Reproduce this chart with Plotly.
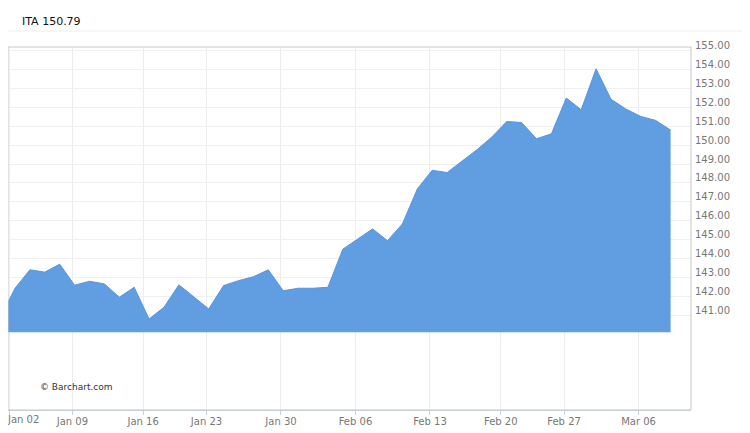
import plotly.graph_objects as go

# ---- data ----
dates = [
    "2016-12-30", "2017-01-03", "2017-01-04", "2017-01-05", "2017-01-06",
    "2017-01-09", "2017-01-10", "2017-01-11", "2017-01-12", "2017-01-13",
    "2017-01-17", "2017-01-18", "2017-01-19", "2017-01-20",
    "2017-01-23", "2017-01-24", "2017-01-25", "2017-01-26", "2017-01-27",
    "2017-01-30", "2017-01-31", "2017-02-01", "2017-02-02", "2017-02-03",
    "2017-02-06", "2017-02-07", "2017-02-08", "2017-02-09", "2017-02-10",
    "2017-02-13", "2017-02-14", "2017-02-15", "2017-02-16", "2017-02-17",
    "2017-02-21", "2017-02-22", "2017-02-23", "2017-02-24",
    "2017-02-27", "2017-02-28", "2017-03-01", "2017-03-02", "2017-03-03",
    "2017-03-06", "2017-03-07", "2017-03-08",
]
closes = [
    140.88, 142.45, 143.42, 143.30, 143.72,
    142.61, 142.82, 142.68, 141.98, 142.50,
    140.83, 141.45, 142.63, 142.01,
    141.36, 142.59, 142.85, 143.06, 143.42,
    142.32, 142.45, 142.45, 142.50, 144.51,
    145.04, 145.58, 144.96, 145.84, 147.68,
    148.67, 148.55, 149.15, 149.75, 150.42,
    151.24, 151.19, 150.33, 150.59,
    152.48, 151.86, 154.02, 152.42, 151.90,
    151.51, 151.30, 150.79,
]
tick_dates = ["2017-01-02", "2017-01-09", "2017-01-16", "2017-01-23", "2017-01-30",
              "2017-02-06", "2017-02-13", "2017-02-20", "2017-02-27", "2017-03-06"]
tick_labels = ["Jan 02", "Jan 09", "Jan 16", "Jan 23", "Jan 30",
               "Feb 06", "Feb 13", "Feb 20", "Feb 27", "Mar 06"]
y_ticks = list(range(141, 156))
symbol = "ITA"
fill_floor = 140.13

# ---- trading-day index axis ----
idx = list(range(len(dates)))


def tick_pos(d):
    for i, dd in enumerate(dates):
        if dd >= d:
            return i - (0.15 if dd == d else 0.4)
    return len(dates) - 1


tick_vals = [tick_pos(d) for d in tick_dates]
# the first label sits at the very left edge of the page; it is drawn as an
# annotation anchored at the plot's left edge so it is not clipped
tick_text = [""] + tick_labels[1:]

BLUE_FILL = "rgb(96,157,225)"
BLUE_LINE = "rgb(88,150,222)"
FONT = "DejaVu Sans"
TICK_FONT = dict(family=FONT, size=10, color="#777")

fig = go.Figure()
fig.add_trace(go.Scatter(
    x=idx, y=[fill_floor] * len(idx), mode="lines",
    line=dict(width=0, color="rgba(0,0,0,0)"), hoverinfo="skip", showlegend=False,
))
fig.add_trace(go.Scatter(
    x=idx, y=closes, mode="lines", fill="tonexty",
    fillcolor=BLUE_FILL, line=dict(color=BLUE_LINE, width=1),
    showlegend=False,
))

fig.update_layout(
    width=742, height=425,
    margin=dict(l=0, r=59, t=39, b=23, autoexpand=False),
    paper_bgcolor="white", plot_bgcolor="white",
    font=dict(family=FONT, size=10, color="#777"),
    showlegend=False,
    xaxis=dict(
        range=[0.530, 46.37],
        tickvals=tick_vals, ticktext=tick_text,
        showgrid=True, gridcolor="#ececec", gridwidth=1,
        zeroline=False,
        showline=True, linecolor="#c3d3e3", linewidth=1,
        ticks="outside", ticklen=4, tickcolor="#c3d3e3",
        ticklabelstandoff=-2,
        tickfont=TICK_FONT,
    ),
    yaxis=dict(
        range=[136.03, 155.17], side="right",
        tickvals=y_ticks, tickformat=".2f",
        showgrid=True, gridcolor="#f0f0f0", gridwidth=1,
        zeroline=False, showline=False, ticks="",
        ticklabelstandoff=3, ticklabelshift=-5,
        tickfont=TICK_FONT,
    ),
    shapes=[
        dict(type="rect", xref="paper", yref="paper", x0=0, x1=1, y0=0, y1=1,
             line=dict(color="#c8c8c8", width=1), layer="above"),
        dict(type="line", xref="paper", yref="paper", x0=0, x1=1.1, y0=1.044, y1=1.044,
             line=dict(color="#eeeeee", width=1)),
    ],
    annotations=[
        dict(text=f"{symbol} {closes[-1]:.2f}", xref="paper", yref="paper",
             x=0.0205, y=1.0689, xanchor="left", yanchor="middle", showarrow=False,
             xshift=-2, font=dict(family=FONT, size=11, color="#111")),
        dict(text="© Barchart.com", xref="paper", yref="paper",
             x=0.0479, y=0.0634, xanchor="left", yanchor="middle", showarrow=False,
             xshift=-3, font=dict(family=FONT, size=9, color="#333")),
        dict(text=tick_labels[0], xref="paper", yref="paper",
             x=0, y=-0.0275, xanchor="left", yanchor="middle", showarrow=False,
             xshift=-3, font=TICK_FONT),
    ],
)

fig.write_html("out.html")
